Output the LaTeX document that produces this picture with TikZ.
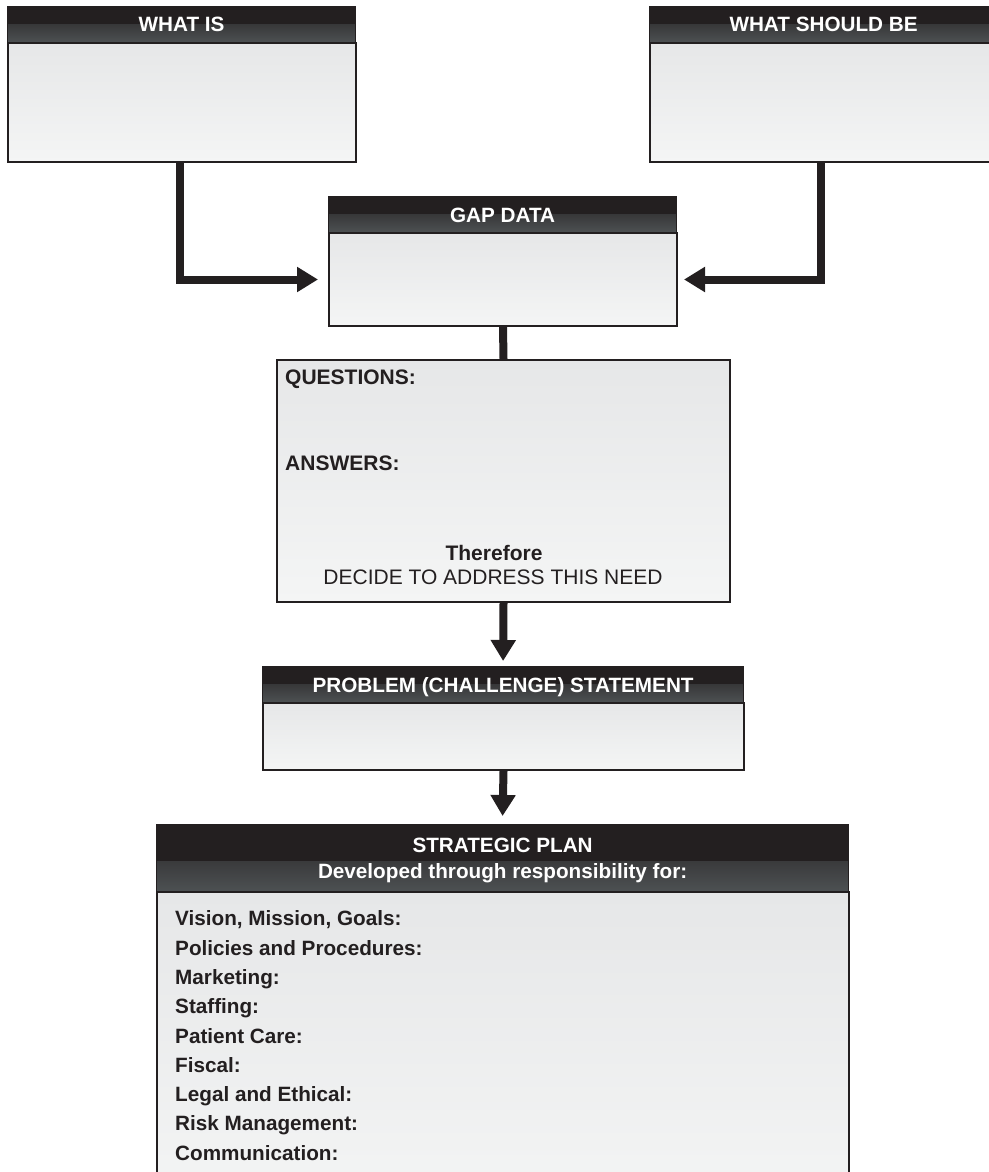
\documentclass[tikz,border=0pt]{standalone}
\usepackage{fontspec}
\setmainfont{Liberation Sans}
\usetikzlibrary{arrows.meta,calc}
\definecolor{ink}{HTML}{231F20}
\definecolor{hgray}{HTML}{4D5153}
\definecolor{btop}{HTML}{E6E7E8}
\definecolor{bbot}{HTML}{F4F5F5}
\begin{document}
\begin{tikzpicture}[x=1pt,y=-1pt,
  hdr/.style={draw=ink, line width=1.2pt, fill=ink, text=white, anchor=north west, inner sep=0pt, align=center,
     font=\fontsize{20.7}{26}\selectfont\bfseries, text height=14.8pt, text depth=0pt,
     path picture={\shade[top color=ink, bottom color=hgray] ([yshift=#1]path picture bounding box.south west) rectangle (path picture bounding box.south east);}},
  hdr/.default=18pt,
  body/.style={draw=ink, line width=2pt, top color=btop, bottom color=bbot, anchor=north west, inner sep=0pt},
  lbl/.style={font=\fontsize{21}{26}\selectfont\bfseries, text=ink, inner sep=0pt, text height=15pt, text depth=0pt},
  listtext/.style={font=\fontsize{20.7}{29.3}\selectfont\bfseries, text=ink, inner sep=0pt, align=left, anchor=north west},
  conn/.style={draw=ink, line width=8pt},
  arr/.style={conn, -{Triangle[length=21pt,width=24pt]}}
]
\useasboundingbox (0,0) rectangle (988,1172);

% WHAT IS
\node[hdr, minimum width=348pt, minimum height=36pt] (whatisH) at (7,6) {WHAT IS};
\node[body, minimum width=348pt, minimum height=119pt] (whatisB) at (7,42) {};
% WHAT SHOULD BE
\node[hdr, minimum width=348pt, minimum height=36pt] (shouldH) at (649,6) {WHAT SHOULD BE};
\node[body, minimum width=348pt, minimum height=119pt] (shouldB) at (649,42) {};
% GAP DATA
\node[hdr, minimum width=348pt, minimum height=36pt] (gapH) at (328,196) {GAP DATA};
\node[body, minimum width=348pt, minimum height=93pt] (gapB) at (328,232) {};
% QUESTIONS
\node[body, minimum width=453pt, minimum height=242pt] (qB) at (276,359) {};
\node[lbl, anchor=west] (qlab) at (285,377) {QUESTIONS:};
\node[lbl, anchor=west] (alab) at (285,463) {ANSWERS:};
\node[lbl] (there) at (494,553) {Therefore};
\node[lbl, font=\fontsize{21}{26}\selectfont] (decide) at (493,577) {DECIDE TO ADDRESS THIS NEED};
% PROBLEM
\node[hdr, minimum width=481pt, minimum height=36pt] (probH) at (262,666) {PROBLEM (CHALLENGE) STATEMENT};
\node[body, minimum width=481pt, minimum height=67pt] (probB) at (262,702) {};
% STRATEGIC PLAN
\node[hdr=30pt, minimum width=692pt, minimum height=67pt, text height=40.8pt] (stratH) at (156,824) {STRATEGIC PLAN\\Developed through responsibility for:};
\node[body, minimum width=692pt, minimum height=320pt] (stratB) at (156,891) {};
\node[listtext] (list) at (175,910.6)
  {Vision, Mission, Goals:\\Policies and Procedures:\\Marketing:\\Staffing:\\Patient Care:\\Fiscal:\\Legal and Ethical:\\Risk Management:\\Communication:};

% connectors
\draw[arr] ([xshift=-2pt]whatisB.south) |- ([xshift=-10pt]gapB.west);
\draw[arr] ([xshift=-3pt]shouldB.south) |- ([xshift=6pt]gapB.east);
\draw[conn] (gapB.south) -- (qB.north);
\draw[arr] (qB.south) -- ([yshift=5pt]probH.north);
\draw[arr] (probB.south) -- ([yshift=8pt]stratH.north);
\end{tikzpicture}
\end{document}
